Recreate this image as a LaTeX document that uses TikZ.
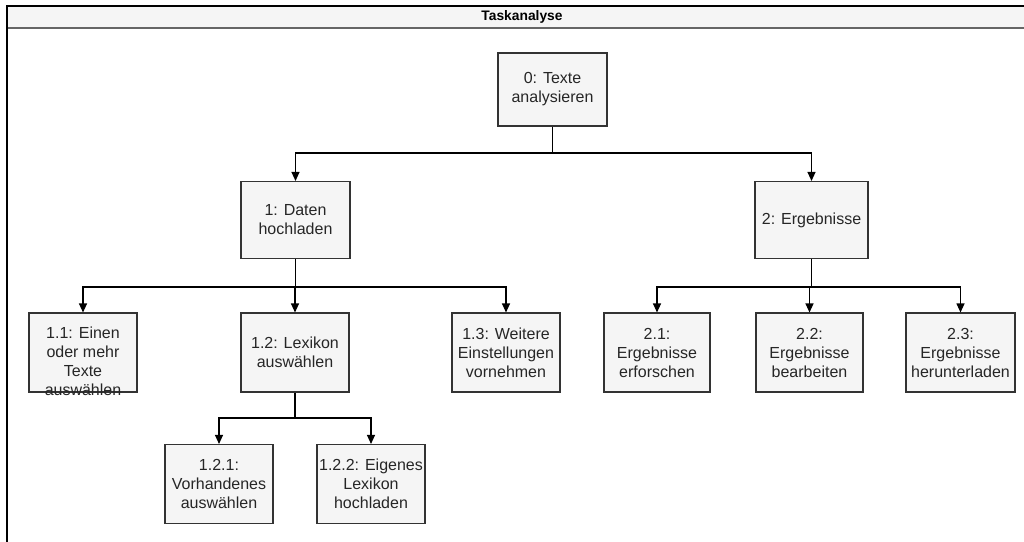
\documentclass[tikz,border=0pt]{standalone}
\usepackage{fontspec}
\setmainfont{Liberation Sans}
\usetikzlibrary{arrows.meta}
\definecolor{boxfill}{HTML}{F5F5F5}
\definecolor{boxline}{HTML}{333333}
\definecolor{hdrline}{HTML}{666666}
\tikzset{
  x=1pt,y=1pt,
  taskbox/.style={draw=boxline,fill=boxfill,line width=1.1pt,minimum width=108pt,minimum height=79pt,inner sep=0pt,align=center,font=\fontsize{16}{19}\selectfont,text=black!85},
  tasktext/.style={inner sep=0pt,align=center,font=\fontsize{16}{19}\selectfont,text=black!85},
  arr/.style={draw=black,line width=1.1pt,-{Triangle[length=9pt,width=8pt]}},
  conn/.style={draw=black,line width=1.1pt}
}
\begin{document}
\begin{tikzpicture}
\useasboundingbox (0,0) rectangle (1024,-541);
% frame
\fill[boxfill] (7,-6) rectangle (1030,-28);
\draw[hdrline,line width=1.2pt] (7,-28) -- (1030,-28);
\draw[black,line width=1.4pt] (7,-545) -- (7,-6) -- (1030,-6);
\node[font=\bfseries\fontsize{13.8}{15}\selectfont] (title) at (522,-17) {Taskanalyse};
% nodes
\node[taskbox,minimum height=73pt,minimum width=109pt] (n0) at (552.5,-89.5) {0: Texte\\analysieren};
\node[taskbox,minimum height=77pt,minimum width=109pt] (n1) at (295.5,-220) {1: Daten\\hochladen};
\node[taskbox,minimum height=77pt,minimum width=113pt] (n2) at (811.5,-220) {2: Ergebnisse};
\node[taskbox] (n11) at (83,-352.5) {};
\node[tasktext] (t11) at (83,-361) {1.1: Einen\\oder mehr\\Texte\\auswählen};
\node[taskbox] (n12) at (295,-352.5) {1.2: Lexikon\\auswählen};
\node[taskbox] (n13) at (506,-352.5) {1.3: Weitere\\Einstellungen\\vornehmen};
\node[taskbox,minimum width=106pt] (n21) at (657,-352.5) {2.1:\\Ergebnisse\\erforschen};
\node[taskbox,minimum width=107pt] (n22) at (809.5,-352.5) {2.2:\\Ergebnisse\\bearbeiten};
\node[taskbox,minimum width=109pt] (n23) at (960.5,-352.5) {2.3:\\Ergebnisse\\herunterladen};
\node[taskbox] (n121) at (219,-484) {1.2.1:\\Vorhandenes\\auswählen};
\node[taskbox] (n122) at (371,-484) {1.2.2: Eigenes\\Lexikon\\hochladen};
% branch points
\coordinate (b0) at (552.5,-153);
\coordinate (b1) at (295.5,-287);
\coordinate (b2) at (811.5,-287);
\coordinate (b12) at (295,-418);
% connectors
\draw[conn] (n0.south) -- (b0);
\draw[arr] (b0) -| (n1.north);
\draw[arr] (b0) -| (n2.north);
\draw[conn] (n1.south) -- (b1);
\draw[arr] (b1) -| (n11.north);
\draw[arr] (b1) -| (n12.north);
\draw[arr] (b1) -| (n13.north);
\draw[conn] (n2.south) -- (b2);
\draw[arr] (b2) -| (n21.north);
\draw[arr] (b2) -| (n22.north);
\draw[arr] (b2) -| (n23.north);
\draw[conn] (n12.south) -- (b12);
\draw[arr] (b12) -| (n121.north);
\draw[arr] (b12) -| (n122.north);
\end{tikzpicture}
\end{document}
